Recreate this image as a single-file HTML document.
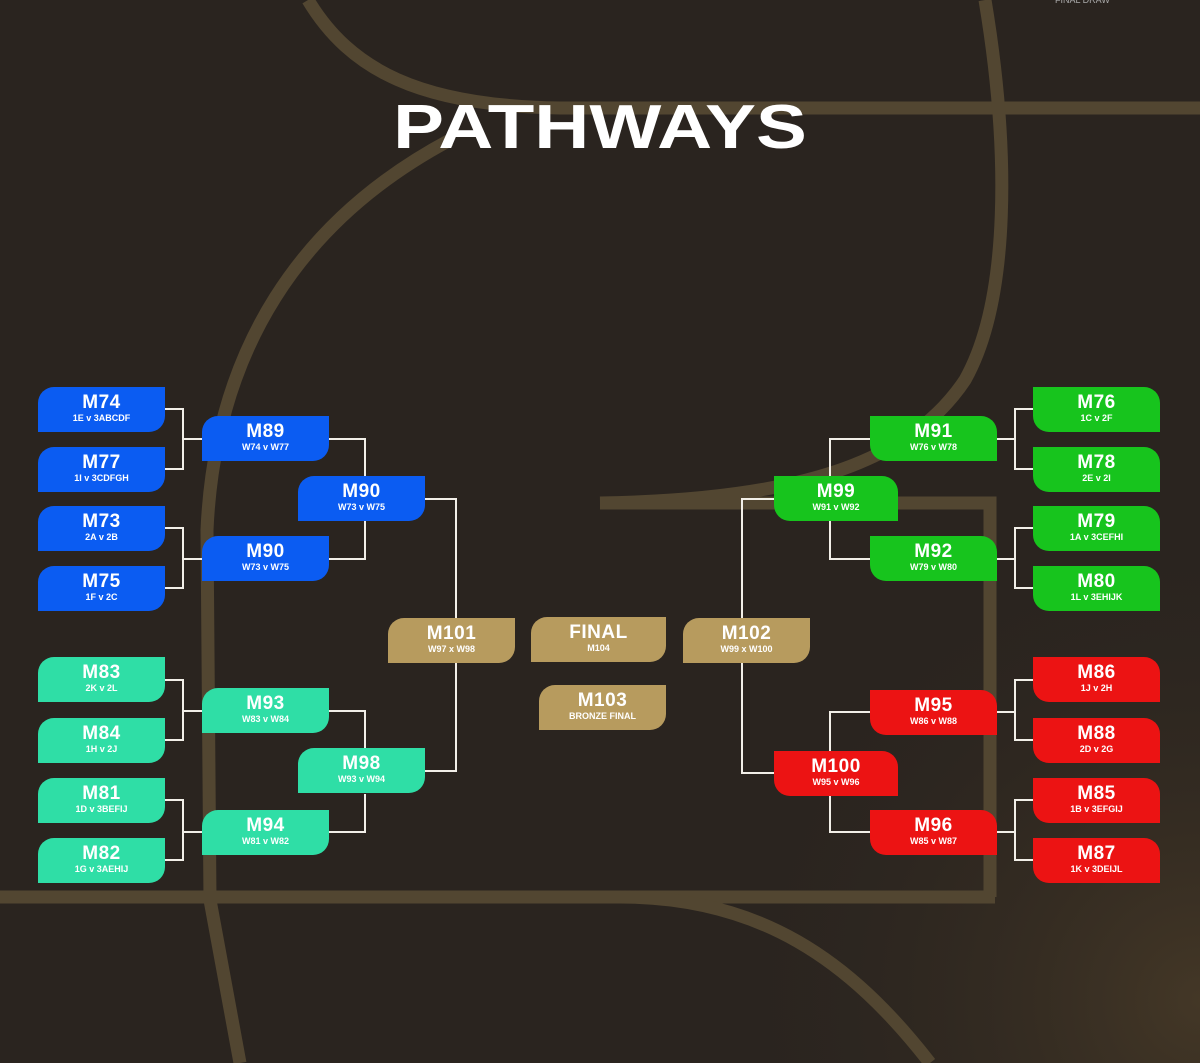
<!DOCTYPE html>
<html><head><style>
body{margin:0;width:1200px;height:1063px;overflow:hidden;background:#2a241f;font-family:"Liberation Sans",sans-serif;}
#bg{position:absolute;left:0;top:0}
.b{position:absolute;width:127px;height:45px;color:#fff;text-align:center;border-radius:16px 0 16px 0;box-sizing:border-box;padding-top:6px}
.r{border-radius:0 16px 0 16px}
.b .t{font-weight:900;font-size:19px;line-height:19px;letter-spacing:0.5px}
.b .s{font-size:9px;line-height:12px;font-weight:bold}
.bl{background:#0b5cf2}.tl{background:#2fdea6}.gr{background:#17c41d}.rd{background:#ec1313}.gd{background:#b79b5e}
h1{position:absolute;left:0;width:1200px;top:97px;margin:0;text-align:center;color:#fff;font-size:62px;line-height:62px;font-weight:900;transform:scaleX(1.23);transform-origin:600px 0}
</style></head><body>
<svg id="bg" width="1200" height="1063">
<defs><radialGradient id="g" cx="1200" cy="1000" r="500" gradientUnits="userSpaceOnUse"><stop offset="0" stop-color="#4a3c28" stop-opacity="0.8"/><stop offset="1" stop-color="#2a241f" stop-opacity="0"/></radialGradient></defs>
<rect width="1200" height="1063" fill="url(#g)"/>
<g fill="none" stroke="#524631" stroke-width="13">
<path d="M308 0 C350 70 420 106 560 108 L1200 108"/>
<path d="M985 0 C1010 150 1010 300 965 380 C905 470 780 500 600 503 L990 503 L990 897"/>
<path d="M450 140 C300 220 215 350 207 530 L210 900 L240 1063"/>
<path d="M0 897 L995 897"/>
<path d="M620 897 C760 897 850 960 930 1063"/>
</g>
<g fill="none" stroke="#f2efe8" stroke-width="2">
<path d="M165 409 H183 V469 H165 M183 439 H202"/>
<path d="M165 528 H183 V588 H165 M183 559 H202"/>
<path d="M165 680 H183 V740 H165 M183 711 H202"/>
<path d="M165 800 H183 V860 H165 M183 832 H202"/>
<path d="M328 439 H365 V476 M365 521 V559 H328"/>
<path d="M328 711 H365 V748 M365 794 V832 H328"/>
<path d="M424 499 H456 V771 H424"/>
<path d="M1033 409 H1015 V469 H1033 M1015 439 H996"/>
<path d="M1033 528 H1015 V588 H1033 M1015 559 H996"/>
<path d="M1033 680 H1015 V740 H1033 M1015 712 H996"/>
<path d="M1033 800 H1015 V860 H1033 M1015 832 H996"/>
<path d="M870 439 H830 V476 M830 521 V559 H870"/>
<path d="M870 712 H830 V751 M830 796 V832 H870"/>
<path d="M774 499 H742 V773 H774"/>
</g>
</svg>
<div style="position:absolute;left:1055px;top:-5px;color:#aaa;font-size:9px">FINAL DRAW</div>
<h1>PATHWAYS</h1>

<div class="b bl" style="left:38px;top:387px"><div class="t">M74</div><div class="s">1E v 3ABCDF</div></div>
<div class="b bl" style="left:38px;top:447px"><div class="t">M77</div><div class="s">1I v 3CDFGH</div></div>
<div class="b bl" style="left:38px;top:506px"><div class="t">M73</div><div class="s">2A v 2B</div></div>
<div class="b bl" style="left:38px;top:566px"><div class="t">M75</div><div class="s">1F v 2C</div></div>
<div class="b bl" style="left:202px;top:416px"><div class="t">M89</div><div class="s">W74 v W77</div></div>
<div class="b bl" style="left:202px;top:536px"><div class="t">M90</div><div class="s">W73 v W75</div></div>
<div class="b bl" style="left:298px;top:476px"><div class="t">M90</div><div class="s">W73 v W75</div></div>

<div class="b tl" style="left:38px;top:657px"><div class="t">M83</div><div class="s">2K v 2L</div></div>
<div class="b tl" style="left:38px;top:718px"><div class="t">M84</div><div class="s">1H v 2J</div></div>
<div class="b tl" style="left:38px;top:778px"><div class="t">M81</div><div class="s">1D v 3BEFIJ</div></div>
<div class="b tl" style="left:38px;top:838px"><div class="t">M82</div><div class="s">1G v 3AEHIJ</div></div>
<div class="b tl" style="left:202px;top:688px"><div class="t">M93</div><div class="s">W83 v W84</div></div>
<div class="b tl" style="left:202px;top:810px"><div class="t">M94</div><div class="s">W81 v W82</div></div>
<div class="b tl" style="left:298px;top:748px"><div class="t">M98</div><div class="s">W93 v W94</div></div>

<div class="b gd" style="left:388px;top:618px"><div class="t">M101</div><div class="s">W97 x W98</div></div>
<div class="b gd" style="left:531px;top:617px;width:135px"><div class="t">FINAL</div><div class="s">M104</div></div>
<div class="b gd" style="left:683px;top:618px"><div class="t">M102</div><div class="s">W99 x W100</div></div>
<div class="b gd" style="left:539px;top:685px"><div class="t">M103</div><div class="s">BRONZE FINAL</div></div>

<div class="b gr r" style="left:1033px;top:387px"><div class="t">M76</div><div class="s">1C v 2F</div></div>
<div class="b gr r" style="left:1033px;top:447px"><div class="t">M78</div><div class="s">2E v 2I</div></div>
<div class="b gr r" style="left:1033px;top:506px"><div class="t">M79</div><div class="s">1A v 3CEFHI</div></div>
<div class="b gr r" style="left:1033px;top:566px"><div class="t">M80</div><div class="s">1L v 3EHIJK</div></div>
<div class="b gr r" style="left:870px;top:416px"><div class="t">M91</div><div class="s">W76 v W78</div></div>
<div class="b gr r" style="left:870px;top:536px"><div class="t">M92</div><div class="s">W79 v W80</div></div>
<div class="b gr r" style="left:774px;top:476px;width:124px"><div class="t">M99</div><div class="s">W91 v W92</div></div>

<div class="b rd r" style="left:1033px;top:657px"><div class="t">M86</div><div class="s">1J v 2H</div></div>
<div class="b rd r" style="left:1033px;top:718px"><div class="t">M88</div><div class="s">2D v 2G</div></div>
<div class="b rd r" style="left:1033px;top:778px"><div class="t">M85</div><div class="s">1B v 3EFGIJ</div></div>
<div class="b rd r" style="left:1033px;top:838px"><div class="t">M87</div><div class="s">1K v 3DEIJL</div></div>
<div class="b rd r" style="left:870px;top:690px"><div class="t">M95</div><div class="s">W86 v W88</div></div>
<div class="b rd r" style="left:870px;top:810px"><div class="t">M96</div><div class="s">W85 v W87</div></div>
<div class="b rd r" style="left:774px;top:751px;width:124px"><div class="t">M100</div><div class="s">W95 v W96</div></div>
</body></html>
